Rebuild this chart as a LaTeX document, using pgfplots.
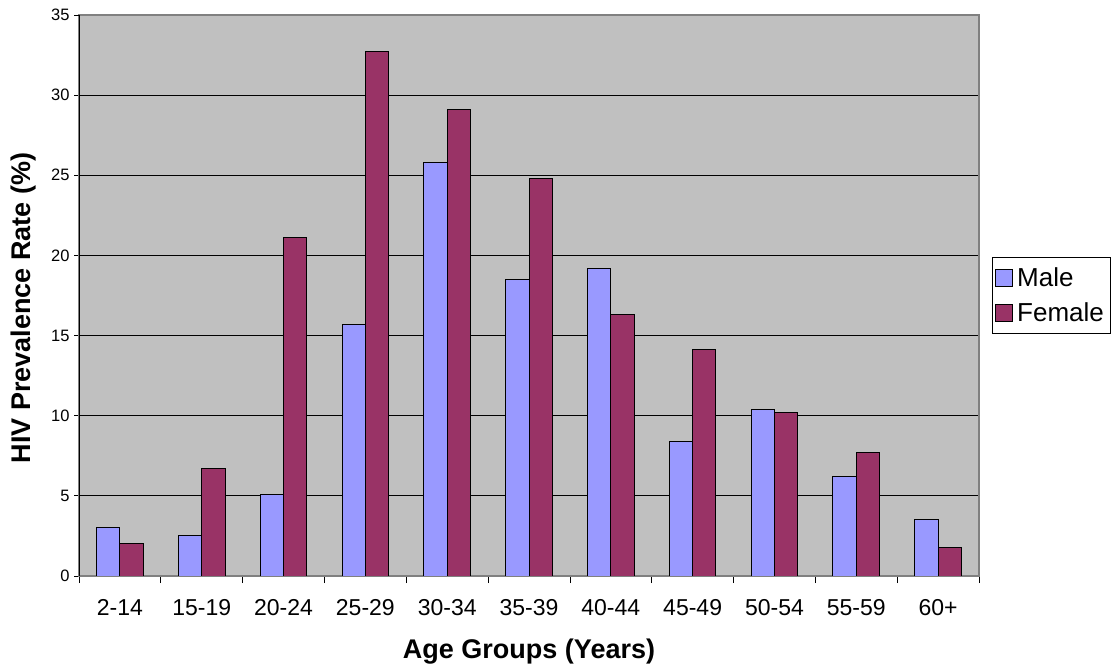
\documentclass[border=0pt]{standalone}
\usepackage{pgfplots}
\pgfplotsset{compat=1.18}
\usepackage{fontspec}
\setmainfont{Liberation Sans}
\definecolor{malec}{HTML}{9999FF}
\definecolor{femalec}{HTML}{993366}
\definecolor{bgc}{HTML}{C0C0C0}
\definecolor{framec}{HTML}{808080}
\pgfplotstableread{
idx male female
0 3.0 2.0
1 2.5 6.7
2 5.1 21.1
3 15.7 32.7
4 25.8 29.1
5 18.5 24.8
6 19.2 16.3
7 8.4 14.1
8 10.4 10.2
9 6.2 7.7
10 3.5 1.8
}\datatable
\begin{document}
\begin{tikzpicture}
\path[use as bounding box] (0,0) rectangle (1115bp,669bp);
\begin{axis}[
  at={(79bp,93bp)}, anchor=south west,
  scale only axis, width=900bp, height=561bp,
  xmin=-0.5, xmax=10.5, ymin=0, ymax=35,
  ybar=0pt, bar width=23.3bp,
  xtick={0,...,10},
  xticklabels={2-14,15-19,20-24,25-29,30-34,35-39,40-44,45-49,50-54,55-59,60+},
  minor xtick={-0.5,0.5,...,10.5},
  ytick={0,5,...,30},
  extra y ticks={35},
  extra y tick style={grid=none},
  ymajorgrids=true,
  major grid style={black, line width=0.8bp},
  tick align=outside,
  xtick pos=bottom, ytick pos=left,
  major tick length=5bp,
  minor tick length=7bp,
  xtick style={draw=none},
  minor x tick style={draw=black, line width=0.8bp},
  ytick style={draw=black, line width=0.8bp},
  axis line style={draw=framec, line width=1.2bp},
  axis background/.style={fill=bgc},
  /pgf/number format/assume math mode=true,
  yticklabel style={font=\fontsize{16.5bp}{19bp}\selectfont, xshift=-1bp},
  xticklabel style={font=\fontsize{23bp}{27bp}\selectfont, yshift=-15bp},
  xlabel={Age Groups (Years)},
  ylabel={HIV Prevalence Rate (\%)},
  xlabel style={font=\bfseries\fontsize{27bp}{32bp}\selectfont, at={(axis description cs:0.5,-0.1355)}, anchor=center},
  ylabel style={font=\bfseries\fontsize{27bp}{32bp}\selectfont, at={(axis description cs:-0.0622,0.4777)}, anchor=center, rotate=0},
  legend style={at={(1,0.5)}, anchor=west, xshift=13bp, draw=black, fill=white,
    font=\fontsize{26bp}{30bp}\selectfont, inner xsep=3bp, inner ysep=7bp, row sep=9bp,
    column sep=1bp, nodes={inner sep=3bp}},
  legend cell align=left,
  sqlegend/.style={legend image code/.code={\draw[##1,draw=black,line width=1bp] (0bp,-8.5bp) rectangle (17bp,8.5bp);}},
]
\addplot[fill=malec, draw=black, line width=1bp, sqlegend] table[x=idx, y=male] {\datatable};
\addplot[fill=femalec, draw=black, line width=1bp, sqlegend] table[x=idx, y=female] {\datatable};
\legend{Male,Female}
\draw[black, line width=1bp] (rel axis cs:0,0) -- (rel axis cs:0,1);
\draw[black, line width=1bp] (rel axis cs:0,0) -- (rel axis cs:1,0);
\end{axis}
\end{tikzpicture}
\end{document}
